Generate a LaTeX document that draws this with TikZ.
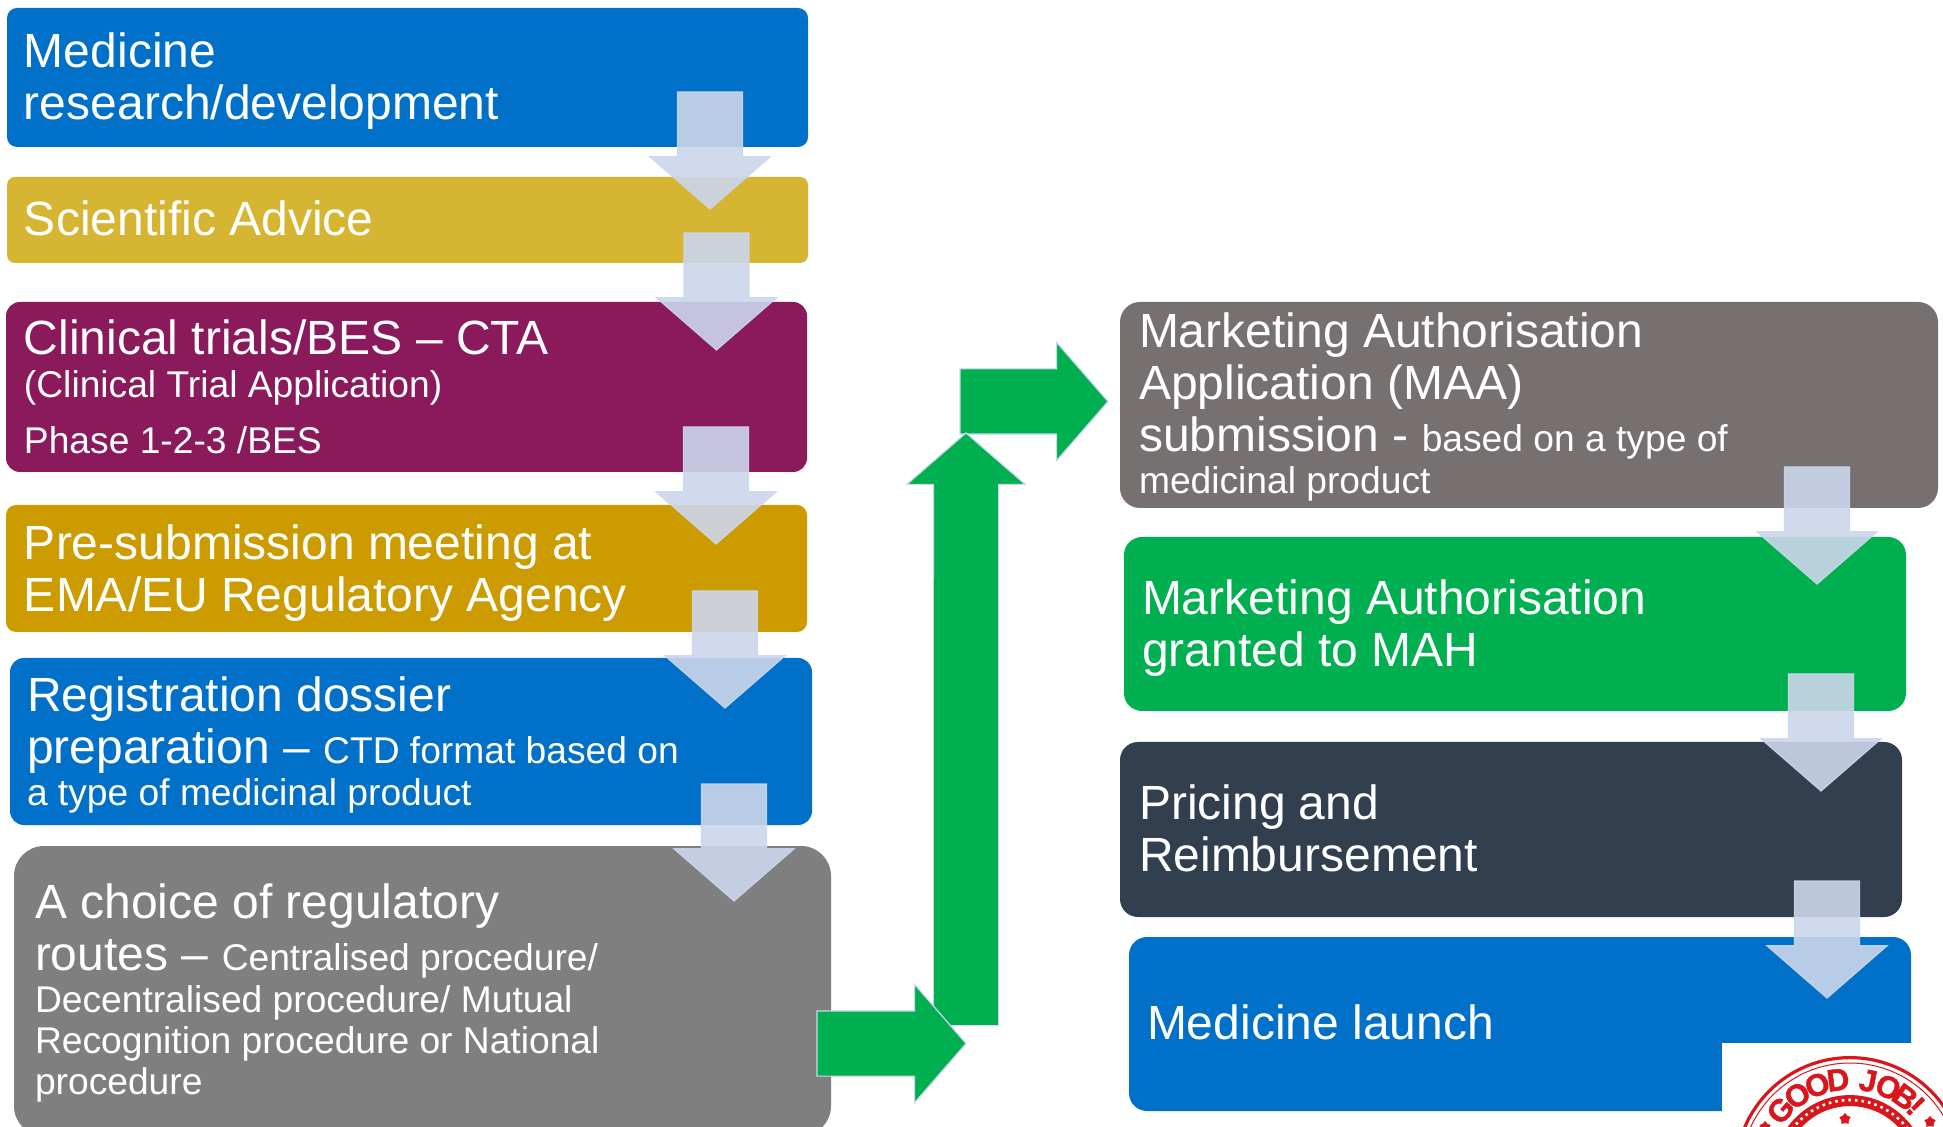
\documentclass[tikz,border=0pt]{standalone}
\usepackage{fontspec}
\setmainfont{Liberation Sans}
\usetikzlibrary{shapes.arrows,shapes.geometric}

\definecolor{boxblue}{HTML}{0070C8}
\definecolor{boxyellow}{HTML}{D6B533}
\definecolor{boxpurple}{HTML}{8A1A5C}
\definecolor{boxgold}{HTML}{CC9B00}
\definecolor{boxgrey}{HTML}{7F7F7F}
\definecolor{boxtaupe}{HTML}{767170}
\definecolor{boxgreen}{HTML}{00B050}
\definecolor{boxnavy}{HTML}{323F4F}
\definecolor{arrowpale}{HTML}{CCD6EC}
\definecolor{stampred}{HTML}{D9161C}

\newcommand{\bigtxt}{\fontsize{24}{26}\selectfont}
\newcommand{\smalltxt}{\fontsize{18.6}{20.6}\selectfont}
\newcommand{\stampfont}{\fontsize{15.5}{15.5}\selectfont\bfseries\addfontfeature{FakeBold=1.5}}

\tikzset{
    flowbox/.style n args={2}{anchor=north west, inner sep=0pt, outer sep=0pt, rounded corners=5pt,
        minimum width={(#1)*0.5pt}, minimum height={(#2)*0.5pt}},
    flowtext/.style={anchor=west, text=white, inner sep=0pt, outer sep=0pt, align=flush left, font=\bigtxt},
    palearrow/.style={single arrow, draw=arrowpale, fill=arrowpale, fill opacity=0.9, draw opacity=0.9,
        line width=0.6pt, shape border rotate=270, anchor=tail, inner sep=16pt, outer sep=0pt,
        minimum width=59.5pt, minimum height=58.5pt, single arrow head extend=13.75pt,
        single arrow tip angle=98},
    greenarrow/.style={single arrow, draw=arrowpale, fill=boxgreen, line width=0.6pt, anchor=tail,
        inner sep=16pt, outer sep=0pt, minimum width=58.5pt, single arrow head extend=13.25pt,
        single arrow tip angle=98},
    stampring/.style={draw=stampred}
}

\begin{document}
\begin{tikzpicture}[x=0.5pt, y=-0.5pt]
    \clip (0,0) rectangle (1943,1127);
    \fill[white] (0,0) rectangle (1943,1127);

    % left column
    \node[flowbox={801}{139}, fill=boxblue] (research) at (7,8) {};
    \node[flowtext] (researchtext) at ([shift={(8.5pt,-2pt)}]research.west) {Medicine\\research/development};
    \node[flowbox={801}{86}, fill=boxyellow, rounded corners=4pt] (advice) at (7,177) {};
    \node[flowtext] (advicetext) at ([shift={(8.5pt,0.6pt)}]advice.west) {Scientific Advice};
    \node[flowbox={801}{170}, fill=boxpurple, rounded corners=7pt] (trials) at (6,302) {};
    \node[flowtext] (trialstext) at ([shift={(9pt,0pt)}]trials.west)
        {Clinical trials/BES -- CTA\\[-4.5pt]{\smalltxt (Clinical Trial Application)}\\[2pt]{\smalltxt Phase 1-2-3 /BES}};
    \node[flowbox={801}{127}, fill=boxgold] (meeting) at (6,505) {};
    \node[flowtext] (meetingtext) at ([shift={(9pt,-2.2pt)}]meeting.west) {Pre-submission meeting at\\EMA/EU Regulatory Agency};
    \node[flowbox={802}{167}, fill=boxblue, rounded corners=7pt] (dossier) at (10,658) {};
    \node[flowtext] (dossiertext) at ([shift={(8.5pt,-1.9pt)}]dossier.west)
        {Registration dossier\\preparation -- {\smalltxt CTD format based on}\\[-5pt]{\smalltxt a type of medicinal product}};
    \node[flowbox={817}{290}, fill=boxgrey, rounded corners=15pt] (routes) at (14,846) {};
    \node[flowtext] (routestext) at ([shift={(10.5pt,-1.2pt)}]routes.west)
        {A choice of regulatory\\routes -- {\smalltxt Centralised procedure/}\\[-5pt]{\smalltxt Decentralised procedure/ Mutual}\\[-5.5pt]{\smalltxt Recognition procedure or National}\\[-5.5pt]{\smalltxt procedure}};

    % right column
    \node[flowbox={818}{206}, fill=boxtaupe, rounded corners=10pt] (submission) at (1120,302) {};
    \node[flowtext] (submissiontext) at ([shift={(9.5pt,-1.2pt)}]submission.west)
        {Marketing Authorisation\\Application (MAA)\\submission - {\smalltxt based on a type of}\\[-5pt]{\smalltxt medicinal product}};
    \node[flowbox={782}{174}, fill=boxgreen, rounded corners=9pt] (granted) at (1124,537) {};
    \node[flowtext] (grantedtext) at ([shift={(9pt,-1.9pt)}]granted.west) {Marketing Authorisation\\granted to MAH};
    \node[flowbox={782}{175}, fill=boxnavy, rounded corners=9pt] (pricing) at (1120,742) {};
    \node[flowtext] (pricingtext) at ([shift={(9.5pt,0.6pt)}]pricing.west) {Pricing and\\Reimbursement};
    \node[flowbox={782}{174}, fill=boxblue, rounded corners=9pt] (launch) at (1129,937) {};
    \node[flowtext] (launchtext) at ([shift={(9pt,0.6pt)}]launch.west) {Medicine launch};

    % stamp in the corner
    \node[anchor=north west, fill=white, inner sep=0pt, minimum width=110.5pt, minimum height=42pt] (stampback) at (1722,1043) {};
    \coordinate (stampc) at (1850,1172);
    \draw[stampring, line width=1.6pt] (stampc) circle (57.2pt);
    \draw[stampring, line width=0.5pt] (stampc) circle (54.5pt);
    \draw[stampring, line width=5.5pt] (stampc) circle (35.7pt);
    \draw[white, line width=1.3pt, dotted] (stampc) circle (36pt);
    \foreach \letter/\ang [count=\i] in {G/138.4, O/124.5, O/110.6, D/97.4, J/78.7, O/65.7, B/53.7, !/45}
        \node[text=stampred, font=\stampfont, inner sep=0pt, rotate=\ang-90] (stampletter\i) at ([shift={(\ang:46.5pt)}]stampc) {\letter};
    \foreach \starname/\sx/\sy in {stara/1845/1119, starb/1930/1122, starc/1765/1127}
        \node[star, star points=5, fill=stampred, inner sep=0pt, minimum size=6pt] (\starname) at (\sx,\sy) {};

    % pale arrows
    \foreach \arrowname/\cx/\ytop in {arrowa/710/92, arrowb/716.5/233, arrowc/716/427, arrowd/725/591, arrowe/734/784,
        arrowf/1817/467, arrowg/1821/674, arrowh/1827/881}
        \node[palearrow] (\arrowname) at (\cx,\ytop) {};

    % green arrows
    \node[greenarrow, minimum height=74pt] (greentop) at (960,401.5) {};
    \node[greenarrow, minimum height=296pt, shape border rotate=90] (greenup) at (966,1025) {};
    \node[anchor=north, fill=boxgreen, inner sep=0pt, outer sep=0pt, minimum width=32pt, minimum height=222.5pt] (greenshaft) at (966,580) {};
    \node[greenarrow, minimum height=74.5pt] (greenbottom) at (817,1043.5) {};
\end{tikzpicture}
\end{document}
